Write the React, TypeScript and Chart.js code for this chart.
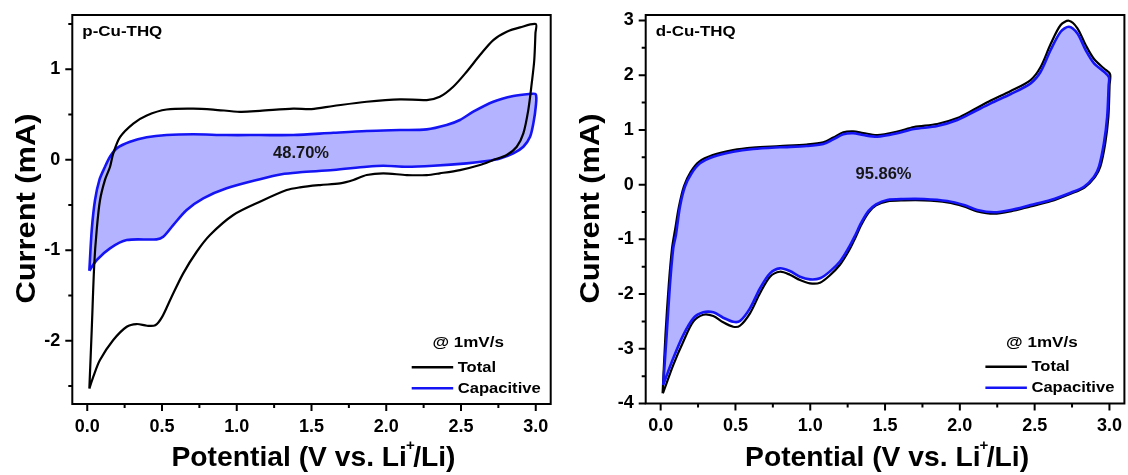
import React, { useEffect, useRef } from "react";
import { Chart, registerables } from "chart.js";

Chart.register(...registerables);

// ---------- data ----------
// p-Cu-THQ, total CV loop (potential in V, current in mA)
const P_TOTAL_V = [0.014, 0.03, 0.047, 0.063, 0.085, 0.119, 0.152, 0.174, 0.219, 0.308, 0.398, 0.531, 0.709, 0.843, 1.022, 1.155, 1.378, 1.5, 1.646, 1.869, 2.092, 2.271, 2.358, 2.448, 2.538, 2.627, 2.716, 2.806, 2.895, 3.0, 2.998, 2.99, 2.973, 2.95, 2.917, 2.873, 2.806, 2.716, 2.627, 2.493, 2.358, 2.271, 2.137, 1.98, 1.869, 1.78, 1.691, 1.557, 1.423, 1.334, 1.155, 0.977, 0.821, 0.732, 0.642, 0.56, 0.5, 0.455, 0.4, 0.33, 0.264, 0.174, 0.085, 0.04, 0.014];
const P_TOTAL_I = [-2.53, -1.88, -1.15, -0.78, -0.45, -0.22, -0.08, 0.07, 0.25, 0.4, 0.49, 0.555, 0.565, 0.555, 0.53, 0.54, 0.565, 0.56, 0.594, 0.641, 0.668, 0.66, 0.696, 0.807, 0.973, 1.157, 1.323, 1.415, 1.463, 1.5, 1.4, 1.1, 0.844, 0.549, 0.292, 0.144, 0.052, -0.003, -0.058, -0.114, -0.15, -0.169, -0.169, -0.15, -0.169, -0.224, -0.261, -0.28, -0.305, -0.335, -0.464, -0.611, -0.832, -1.017, -1.256, -1.53, -1.74, -1.83, -1.835, -1.816, -1.846, -1.993, -2.214, -2.4, -2.53];

// p-Cu-THQ, capacitive contribution
const P_CAP_V = [0.014, 0.03, 0.052, 0.081, 0.119, 0.152, 0.197, 0.286, 0.398, 0.531, 0.709, 0.932, 1.155, 1.378, 1.646, 1.869, 2.092, 2.271, 2.404, 2.493, 2.582, 2.716, 2.85, 2.956, 3.0, 3.0, 2.984, 2.962, 2.917, 2.85, 2.761, 2.672, 2.538, 2.315, 2.137, 1.98, 1.869, 1.646, 1.423, 1.3, 1.155, 0.932, 0.776, 0.665, 0.575, 0.508, 0.464, 0.264, 0.152, 0.063, 0.014];
const P_CAP_I = [-1.227, -0.777, -0.445, -0.224, -0.077, 0.033, 0.126, 0.199, 0.248, 0.273, 0.281, 0.273, 0.273, 0.273, 0.298, 0.317, 0.328, 0.336, 0.384, 0.439, 0.531, 0.641, 0.704, 0.726, 0.723, 0.586, 0.402, 0.254, 0.144, 0.071, 0.015, -0.014, -0.04, -0.066, -0.077, -0.066, -0.077, -0.114, -0.139, -0.16, -0.215, -0.316, -0.427, -0.556, -0.722, -0.851, -0.88, -0.888, -0.979, -1.109, -1.227];

// d-Cu-THQ, total CV loop
const D_TOTAL_V = [0.013, 0.032, 0.054, 0.076, 0.096, 0.122, 0.156, 0.2, 0.256, 0.348, 0.483, 0.617, 0.797, 0.976, 1.087, 1.154, 1.221, 1.287, 1.354, 1.448, 1.582, 1.693, 1.849, 1.983, 2.094, 2.206, 2.34, 2.473, 2.54, 2.607, 2.674, 2.729, 2.785, 2.841, 2.897, 2.964, 3.004, 3.001, 2.993, 2.972, 2.939, 2.903, 2.833, 2.741, 2.607, 2.473, 2.34, 2.228, 2.116, 2.027, 1.916, 1.76, 1.626, 1.515, 1.44, 1.39, 1.34, 1.3, 1.26, 1.2, 1.13, 1.065, 0.998, 0.931, 0.864, 0.797, 0.731, 0.664, 0.597, 0.53, 0.485, 0.418, 0.352, 0.285, 0.218, 0.151, 0.084, 0.018, 0.013];
const D_TOTAL_I = [-3.814, -2.749, -1.835, -1.164, -0.83, -0.404, -0.026, 0.23, 0.418, 0.541, 0.632, 0.678, 0.705, 0.733, 0.773, 0.861, 0.956, 0.974, 0.943, 0.906, 0.97, 1.053, 1.108, 1.217, 1.372, 1.537, 1.71, 1.911, 2.149, 2.569, 2.917, 2.995, 2.862, 2.551, 2.295, 2.122, 2.021, 1.82, 1.241, 0.755, 0.327, 0.139, -0.053, -0.166, -0.305, -0.397, -0.488, -0.532, -0.488, -0.397, -0.323, -0.287, -0.287, -0.305, -0.38, -0.51, -0.74, -0.98, -1.2, -1.46, -1.66, -1.793, -1.804, -1.743, -1.647, -1.592, -1.683, -1.986, -2.352, -2.579, -2.597, -2.516, -2.401, -2.378, -2.505, -2.871, -3.297, -3.79, -3.814];

// d-Cu-THQ, capacitive contribution
const D_CAP_V = [0.017, 0.04, 0.062, 0.084, 0.102, 0.129, 0.162, 0.207, 0.263, 0.352, 0.485, 0.619, 0.797, 0.976, 1.087, 1.154, 1.221, 1.287, 1.354, 1.448, 1.582, 1.693, 1.849, 1.983, 2.094, 2.206, 2.34, 2.473, 2.54, 2.607, 2.674, 2.729, 2.785, 2.841, 2.897, 2.964, 2.997, 2.995, 2.985, 2.963, 2.93, 2.897, 2.83, 2.741, 2.607, 2.473, 2.34, 2.228, 2.116, 2.027, 1.916, 1.76, 1.626, 1.515, 1.44, 1.39, 1.34, 1.3, 1.26, 1.2, 1.13, 1.065, 0.998, 0.931, 0.864, 0.797, 0.731, 0.664, 0.597, 0.53, 0.485, 0.418, 0.352, 0.285, 0.218, 0.151, 0.084, 0.017];
const D_CAP_I = [-3.662, -2.749, -1.835, -1.164, -0.921, -0.404, -0.038, 0.207, 0.389, 0.51, 0.601, 0.651, 0.682, 0.705, 0.742, 0.828, 0.919, 0.938, 0.906, 0.875, 0.938, 1.016, 1.071, 1.181, 1.332, 1.486, 1.656, 1.851, 2.063, 2.46, 2.794, 2.886, 2.765, 2.46, 2.217, 2.063, 1.961, 1.82, 1.241, 0.755, 0.327, 0.144, -0.038, -0.148, -0.281, -0.373, -0.464, -0.506, -0.464, -0.373, -0.3, -0.263, -0.263, -0.281, -0.36, -0.48, -0.7, -0.93, -1.14, -1.4, -1.59, -1.712, -1.731, -1.683, -1.579, -1.53, -1.621, -1.895, -2.261, -2.493, -2.506, -2.432, -2.334, -2.334, -2.443, -2.749, -3.174, -3.662];

// axis ticks (labelled values)
const X_TICKS = [0, 0.5, 1, 1.5, 2, 2.5, 3];
const P_Y_TICKS = [-2, -1, 0, 1];
const D_Y_TICKS = [-4, -3, -2, -1, 0, 1, 2, 3];

const SERIES_NAMES = ["Total", "Capacitive"];
const SCAN_RATE = "@ 1mV/s";
const X_TITLE = ["Potential (V vs. Li", "+", "/Li)"];
const Y_TITLE = "Current (mA)";

// ---------- styling ----------
const FONT = "'Liberation Sans', Arial, Helvetica, sans-serif";
const BLUE = "#1414f5";
const FILL = "#b3b3ff";

type Panel = {
  name: string;
  ratio: string;
  ratioAt: [number, number];
  totalV: number[];
  totalI: number[];
  capV: number[];
  capI: number[];
  yMin: number;
  yMax: number;
  yTicks: number[];
  yWidth: number;
  padRight: number;
  xHeight: number;
  capOnTop: boolean;
};

const PANELS: Panel[] = [
  {
    name: "p-Cu-THQ",
    ratio: "48.70%",
    ratioAt: [1.43, 0.015],
    totalV: P_TOTAL_V,
    totalI: P_TOTAL_I,
    capV: P_CAP_V,
    capI: P_CAP_I,
    yMin: -2.7,
    yMax: 1.6,
    yTicks: P_Y_TICKS,
    yWidth: 72.3,
    padRight: 13.3,
    xHeight: 71,
    capOnTop: false,
  },
  {
    name: "d-Cu-THQ",
    ratio: "95.86%",
    ratioAt: [1.49, 0.1],
    totalV: D_TOTAL_V,
    totalI: D_TOTAL_I,
    capV: D_CAP_V,
    capI: D_CAP_I,
    yMin: -4,
    yMax: 3.1,
    yTicks: D_Y_TICKS,
    yWidth: 81.7,
    padRight: 3.6,
    xHeight: 71.5,
    capOnTop: true,
  },
];

const toPoints = (xs: number[], ys: number[]) => xs.map((x, i) => ({ x, y: ys[i] }));

// text drawn at an exact width (squeezed/stretched horizontally)
function fitText(ctx: CanvasRenderingContext2D, text: string, x: number, y: number, font: string, width?: number, align: "left" | "center" = "left") {
  ctx.font = font;
  const w = ctx.measureText(text).width;
  const sx = width ? width / w : 1;
  ctx.save();
  ctx.translate(x, y);
  ctx.scale(sx, 1);
  ctx.textAlign = "left";
  ctx.textBaseline = "alphabetic";
  ctx.fillText(text, align === "center" ? -w / 2 : 0, 0);
  ctx.restore();
}

function hLine(ctx: CanvasRenderingContext2D, x1: number, x2: number, y: number, color: string, width: number) {
  ctx.beginPath();
  ctx.strokeStyle = color;
  ctx.lineWidth = width;
  ctx.moveTo(x1, y);
  ctx.lineTo(x2, y);
  ctx.stroke();
}

// frame, tick marks, titles, annotations and legend
const decorPlugin = {
  id: "decor",
  afterDraw(chart: any, _args: any, opts: any) {
    const { ctx, chartArea: a } = chart;
    const xs = chart.scales.x;
    const ys = chart.scales.y;
    const panel: Panel = opts.panel;
    ctx.save();

    // plot frame
    ctx.strokeStyle = "#000";
    ctx.lineWidth = 2;
    ctx.strokeRect(a.left, a.top, a.right - a.left, a.bottom - a.top);

    // major + minor tick marks
    ctx.lineWidth = 2;
    ctx.beginPath();
    X_TICKS.forEach((v, i) => {
      const px = xs.getPixelForValue(v);
      ctx.moveTo(px, a.bottom);
      ctx.lineTo(px, a.bottom + 7);
      if (i < X_TICKS.length - 1) {
        const m = xs.getPixelForValue((v + X_TICKS[i + 1]) / 2);
        ctx.moveTo(m, a.bottom);
        ctx.lineTo(m, a.bottom + 4);
      }
    });
    const yt = panel.yTicks;
    const yStep = yt[1] - yt[0];
    yt.forEach((v) => {
      const py = ys.getPixelForValue(v);
      ctx.moveTo(a.left, py);
      ctx.lineTo(a.left - 7, py);
    });
    for (let v = yt[0] - yStep / 2; v <= panel.yMax; v += yStep) {
      if (v < panel.yMin) continue;
      const py = ys.getPixelForValue(v);
      ctx.moveTo(a.left, py);
      ctx.lineTo(a.left - 4, py);
    }
    ctx.stroke();

    ctx.fillStyle = "#000";

    // axis titles
    const main = `bold 28px ${FONT}`;
    const sup = `bold 15px ${FONT}`;
    ctx.font = main;
    const w1 = ctx.measureText(X_TITLE[0]).width;
    const w3 = ctx.measureText(X_TITLE[2]).width;
    ctx.font = sup;
    const w2 = ctx.measureText(X_TITLE[1]).width;
    const adv2 = w2 * 0.7;
    const total = w1 + adv2 + w3;
    const targetW = 284;
    const cx = (a.left + a.right) / 2 + 2;
    ctx.save();
    ctx.translate(cx - targetW / 2, 466);
    ctx.scale(targetW / total, 1);
    ctx.textBaseline = "alphabetic";
    ctx.textAlign = "left";
    ctx.font = main;
    ctx.fillText(X_TITLE[0], 0, 0);
    ctx.font = sup;
    ctx.fillText(X_TITLE[1], w1 - w2 * 0.12, -16);
    ctx.font = main;
    ctx.fillText(X_TITLE[2], w1 + adv2, 0);
    ctx.restore();

    ctx.save();
    ctx.translate(35, 208.5);
    ctx.rotate(-Math.PI / 2);
    fitText(ctx, Y_TITLE, 0, 0, main, 190, "center");
    ctx.restore();

    // sample name and capacitive ratio
    fitText(ctx, panel.name, a.left + 10, a.top + 20.5, `bold 15px ${FONT}`, 80);
    ctx.fillStyle = "#161616";
    fitText(
      ctx,
      panel.ratio,
      xs.getPixelForValue(panel.ratioAt[0]),
      ys.getPixelForValue(panel.ratioAt[1]),
      `bold 16px ${FONT}`,
      56,
      "center"
    );

    // legend
    ctx.fillStyle = "#000";
    const r = a.right;
    const b = a.bottom;
    const f14 = `bold 14px ${FONT}`;
    fitText(ctx, SCAN_RATE, r - 118.3, b - 57, f14, 71.5);
    hLine(ctx, r - 139, r - 97.5, b - 36.7, "#000", 2.4);
    fitText(ctx, SERIES_NAMES[0], r - 93, b - 32.3, f14, 38.3);
    hLine(ctx, r - 139, r - 97.5, b - 15.7, BLUE, 2.4);
    fitText(ctx, SERIES_NAMES[1], r - 93, b - 11.5, f14, 83);

    ctx.restore();
  },
};

function CvPanel({ panel }: { panel: Panel }) {
  const ref = useRef<HTMLCanvasElement | null>(null);

  useEffect(() => {
    if (!ref.current) return;
    const tickFont = { family: FONT, size: 18, weight: "bold" as const };
    const chart = new Chart(ref.current, {
      type: "scatter",
      data: {
        datasets: [
          {
            label: SERIES_NAMES[0],
            data: toPoints(panel.totalV, panel.totalI),
            showLine: true,
            borderColor: "#000",
            borderWidth: 2.2,
            pointRadius: 0,
            tension: 0.3,
            fill: false,
            order: panel.capOnTop ? 2 : 1,
          },
          {
            label: SERIES_NAMES[1],
            data: toPoints(panel.capV, panel.capI),
            showLine: true,
            borderColor: BLUE,
            backgroundColor: FILL,
            borderWidth: 2.6,
            pointRadius: 0,
            tension: 0.3,
            fill: "shape",
            order: panel.capOnTop ? 1 : 2,
          },
        ],
      },
      options: {
        responsive: false,
        animation: false,
        devicePixelRatio: 1,
        events: [],
        layout: { padding: { left: 0, right: panel.padRight, top: 15, bottom: 0 } },
        plugins: {
          legend: { display: false },
          tooltip: { enabled: false },
          decor: { panel },
        } as any,
        scales: {
          x: {
            type: "linear",
            min: -0.1,
            max: 3.1,
            grid: { display: false, drawTicks: false },
            border: { display: false },
            ticks: {
              padding: 12,
              color: "#000",
              font: tickFont,
              callback: (v: any) => Number(v).toFixed(1),
            },
            afterBuildTicks: (s: any) => {
              s.ticks = X_TICKS.map((value) => ({ value }));
            },
            afterFit: (s: any) => {
              s.height = panel.xHeight;
              s.paddingLeft = 0;
              s.paddingRight = 0;
            },
          },
          y: {
            type: "linear",
            min: panel.yMin,
            max: panel.yMax,
            grid: { display: false, drawTicks: false },
            border: { display: false },
            ticks: {
              padding: 12,
              color: "#000",
              font: tickFont,
              callback: (v: any) => String(Math.round(Number(v))),
            },
            afterBuildTicks: (s: any) => {
              s.ticks = panel.yTicks.map((value) => ({ value }));
            },
            afterFit: (s: any) => {
              s.width = panel.yWidth;
              s.paddingTop = 0;
              s.paddingBottom = 0;
            },
          },
        },
      } as any,
      plugins: [decorPlugin],
    });
    return () => chart.destroy();
  }, [panel]);

  return <canvas ref={ref} width={564} height={475} style={{ display: "block", width: 564, height: 475 }} />;
}

export default function App() {
  return (
    <div
      style={{
        position: "absolute",
        left: 0,
        top: 0,
        width: 1128,
        height: 475,
        background: "#fff",
        display: "flex",
        overflow: "hidden",
      }}
    >
      {PANELS.map((p) => (
        <CvPanel key={p.name} panel={p} />
      ))}
    </div>
  );
}
